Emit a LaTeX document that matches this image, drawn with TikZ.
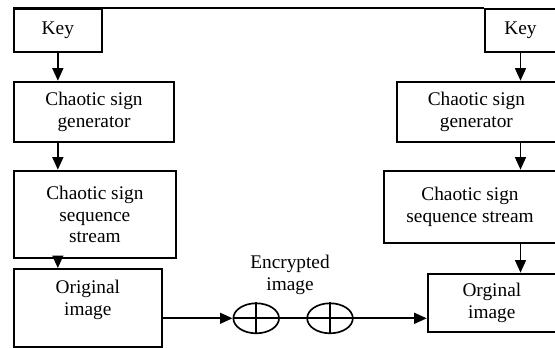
\documentclass[tikz,border=0pt]{standalone}
\usepackage{fontspec}
\setmainfont{Liberation Serif}
\usetikzlibrary{shapes.geometric,arrows.meta}

\begin{document}
\begin{tikzpicture}[x=0.6pt, y=-0.6pt,
    blk/.style={draw, line width=1.15pt, inner sep=0pt, align=center, font=\fontsize{11.6}{13}\selectfont},
    txt/.style={align=center, inner sep=0pt, font=\fontsize{11.6}{13}\selectfont},
    xor/.style={draw, ellipse, line width=1pt, inner sep=0pt, minimum width=27.4pt, minimum height=18pt},
    arr/.style={line width=1pt, -{Triangle[length=7.5pt,width=6.5pt]}},
    ln/.style={line width=1pt}]

    \useasboundingbox (0,0) rectangle (555,348);

    % sender side
    \node[blk, minimum width=52.6pt, minimum height=26pt] (key1) at (57.85,30.65) {Key};
    \node[blk, minimum width=96pt, minimum height=36pt] (gen1) at (94,111.7) {Chaotic sign\\generator};
    \node[blk, minimum width=97pt, minimum height=52.6pt] (stream1) at (94.85,214.5) {Chaotic sign\\sequence\\stream};
    \node[blk, minimum width=88.6pt, minimum height=46.6pt] (orig1) at (87.85,307.85) {};
    \node[txt] (origtxt1) at (87.85,300) {Original\\image};

    % receiver side
    \node[blk, minimum width=42.6pt, minimum height=26pt] (key2) at (520.5,30.65) {Key};
    \node[blk, minimum width=95.6pt, minimum height=36pt] (gen2) at (476.35,111.7) {Chaotic sign\\generator};
    \node[blk, minimum width=103.2pt, minimum height=43.6pt] (stream2) at (470,207) {Chaotic sign\\sequence stream};
    \node[blk, minimum width=77pt, minimum height=35pt] (orig2) at (491.85,302.8) {Orginal\\image};

    % channel
    \node[xor] (e1) at (256.2,318.3) {};
    \node[xor] (e2) at (330,318.3) {};
    \draw[ln] (e1.north) -- (e1.south) (e1.west) -- (e1.east);
    \draw[ln] (e2.north) -- (e2.south) (e2.west) -- (e2.east);
    \node[txt] (enc) at (290,275) {Encrypted\\image};

    \draw[ln] (key1.north west) -- (key2.north west);

    \draw[arr] (key1.south) -- (key1.south |- gen1.north);
    \draw[arr] (key1.south |- gen1.south) -- (key1.south |- stream1.north);
    \draw[arr] (key1.south |- stream1.south) -- (key1.south |- orig1.north);

    \draw[arr] (key2.south) -- (key2.south |- gen2.north);
    \draw[arr] (key2.south |- gen2.south) -- (key2.south |- stream2.north);
    \draw[arr] (key2.south |- stream2.south) -- (key2.south |- orig2.north);

    \draw[arr] (e1.west -| orig1.east) -- (e1.west);
    \draw[ln] (e1.east) -- (e2.west);
    \draw[arr] (e2.east) -- (e2.east -| orig2.west);

\end{tikzpicture}
\end{document}
